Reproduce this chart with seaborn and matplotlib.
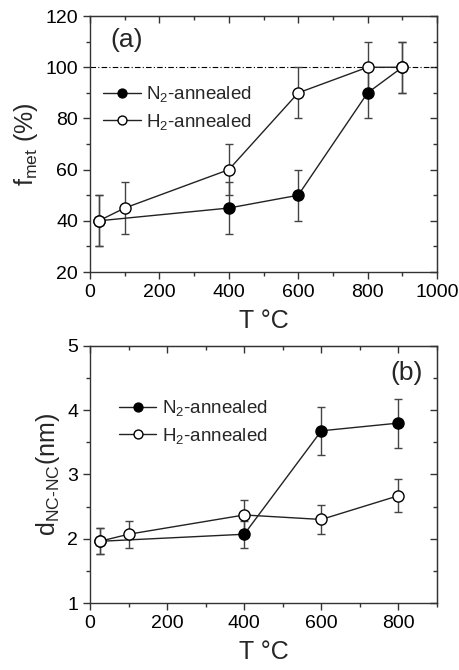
import matplotlib
matplotlib.use("Agg")
import matplotlib.pyplot as plt
import seaborn as sns
import pandas as pd
from matplotlib.ticker import MultipleLocator

# ---- data (a) ----
a_n2_T = [25, 400, 600, 800, 900]
a_n2_f = [40, 45, 50, 90, 100]
a_n2_err = [10, 10, 10, 10, 10]
a_h2_T = [25, 100, 400, 600, 800, 900]
a_h2_f = [40, 45, 60, 90, 100, 100]
a_h2_err = [10, 10, 10, 10, 10, 10]

# ---- data (b) ----
b_n2_T = [25, 400, 600, 800]
b_n2_d = [1.96, 2.07, 3.68, 3.80]
b_n2_err = [0.20, 0.21, 0.37, 0.38]
b_h2_T = [25, 100, 400, 600, 800]
b_h2_d = [1.96, 2.07, 2.37, 2.30, 2.67]
b_h2_err = [0.20, 0.21, 0.24, 0.23, 0.26]

sns.set_style("ticks")
plt.rcParams['font.family'] = ['Liberation Sans', 'DejaVu Sans']
plt.rcParams['mathtext.fontset'] = 'custom'
plt.rcParams['mathtext.rm'] = 'Liberation Sans'
plt.rcParams['mathtext.it'] = 'Liberation Sans:italic'

fig = plt.figure(figsize=(4.6, 6.7), dpi=100)
axa = fig.add_axes([0.1957, 0.594, 0.7543, 0.382])
axb = fig.add_axes([0.1957, 0.100, 0.7543, 0.3836])

def draw(ax, T1, y1, e1, T2, y2, e2):
    ax.errorbar(T1, y1, yerr=e1, fmt='none', ecolor='#444444', elinewidth=1.0, capsize=3, capthick=1.0, zorder=2)
    ax.errorbar(T2, y2, yerr=e2, fmt='none', ecolor='#444444', elinewidth=1.0, capsize=3, capthick=1.0, zorder=2)
    d1 = pd.DataFrame({'T': T1, 'y': y1})
    d2 = pd.DataFrame({'T': T2, 'y': y2})
    sns.lineplot(data=d1, x='T', y='y', ax=ax, color='#222222', lw=1.0, marker='o', markersize=8,
                 markerfacecolor='black', markeredgecolor='black', markeredgewidth=1.0,
                 label='N$_2$-annealed', zorder=3)
    sns.lineplot(data=d2, x='T', y='y', ax=ax, color='#222222', lw=1.0, marker='o', markersize=8,
                 markerfacecolor='white', markeredgecolor='black', markeredgewidth=1.0,
                 label='H$_2$-annealed', zorder=4)

def style(ax, xmax, ymin, ymax, xmaj, xmin_, ymaj, ymin_):
    ax.set_xlim(0, xmax)
    ax.set_ylim(ymin, ymax)
    ax.xaxis.set_major_locator(MultipleLocator(xmaj))
    ax.xaxis.set_minor_locator(MultipleLocator(xmin_))
    ax.yaxis.set_major_locator(MultipleLocator(ymaj))
    ax.yaxis.set_minor_locator(MultipleLocator(ymin_))
    for s in ax.spines.values():
        s.set_linewidth(1.0)
        s.set_color('#333333')
        s.set_visible(True)
    ax.tick_params(which='major', direction='out', length=5, width=1.0, labelsize=14, colors='#333333', labelcolor='black')
    ax.tick_params(which='minor', direction='out', length=3, width=1.0, colors='#333333')
    sx = ax.secondary_xaxis('top')
    sx.xaxis.set_major_locator(MultipleLocator(xmaj))
    sx.xaxis.set_minor_locator(MultipleLocator(xmin_))
    sx.tick_params(which='major', direction='in', length=5, width=1.0, labeltop=False, colors='#333333')
    sx.tick_params(which='minor', direction='in', length=3, width=1.0, colors='#333333')
    sy = ax.secondary_yaxis('right')
    sy.yaxis.set_major_locator(MultipleLocator(ymaj))
    sy.yaxis.set_minor_locator(MultipleLocator(ymin_))
    sy.tick_params(which='major', direction='in', length=5, width=1.0, labelright=False, colors='#333333')
    sy.tick_params(which='minor', direction='in', length=3, width=1.0, colors='#333333')
    ax.set_xlabel('T °C', fontsize=18, labelpad=6)

# panel (a)
draw(axa, a_n2_T, a_n2_f, a_n2_err, a_h2_T, a_h2_f, a_h2_err)
axa.axhline(100, color='black', lw=0.8, ls=(0, (5, 2, 1, 2)), zorder=1)
style(axa, 1000, 20, 120, 200, 100, 20, 10)
axa.set_ylabel('f$_{\\mathrm{met}}$ (%)', fontsize=18, labelpad=4)
axa.text(0.06, 0.955, '(a)', transform=axa.transAxes, fontsize=19, va='top', ha='left')
axa.legend(loc='upper left', bbox_to_anchor=(0.0, 0.785), frameon=False, fontsize=13.5,
           handlelength=2.0, handletextpad=0.3, labelspacing=0.4, borderaxespad=0.3,
           markerscale=0.8)

# panel (b)
draw(axb, b_n2_T, b_n2_d, b_n2_err, b_h2_T, b_h2_d, b_h2_err)
style(axb, 900, 1, 5, 200, 100, 1, 0.5)
axb.set_ylabel('d$_{\\mathrm{NC\\text{-}NC}}$(nm)', fontsize=18, labelpad=4)
axb.text(0.96, 0.94, '(b)', transform=axb.transAxes, fontsize=19, va='top', ha='right')
axb.legend(loc='upper left', bbox_to_anchor=(0.045, 0.848), frameon=False, fontsize=13.5,
           handlelength=2.0, handletextpad=0.3, labelspacing=0.4, borderaxespad=0.3,
           markerscale=0.8)

fig.savefig('out.png', dpi=100)
